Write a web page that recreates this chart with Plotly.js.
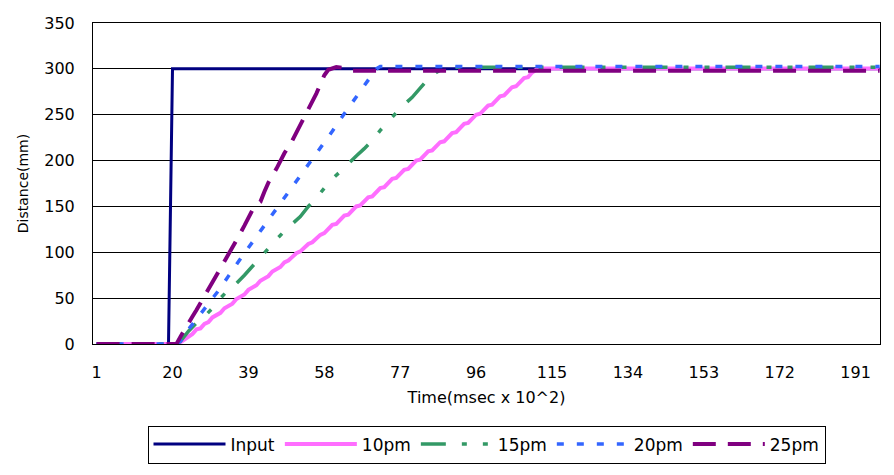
<!DOCTYPE html>
<html>
<head>
<meta charset="utf-8">
<script src="https://cdn.plot.ly/plotly-3.0.1.min.js"></script>
<style>html,body{margin:0;padding:0;background:#fff;}#chart{width:894px;height:475px;}</style>
</head>
<body>
<div id="chart"></div>
<script>
// Category ticks shown on the time axis
const tickCats = [1, 20, 39, 58, 77, 96, 115, 134, 153, 172, 191];
const nCats = 197;

// Series names
const seriesNames = ["Input", "10pm", "15pm", "20pm", "25pm"];

// Input
const inputX = [1, 19, 20, 197];
const inputY = [0, 0, 300, 300];

// 10pm
const pinkX = [1, 21, 22, 23, 24, 25, 26, 27, 28, 29, 30, 31, 32, 33, 34, 35, 36, 37, 38, 39, 40,
  41, 42, 43, 44, 45, 46, 47, 48, 49, 50, 51, 52, 53, 54, 55, 56, 57, 58, 59, 60,
  61, 62, 63, 64, 65, 66, 67, 68, 69, 70, 71, 72, 73, 74, 75, 76, 77, 78, 79, 80,
  81, 82, 83, 84, 85, 86, 87, 88, 89, 90, 91, 92, 93, 94, 95, 96, 97, 98, 99, 100,
  101, 102, 103, 104, 105, 106, 107, 108, 109, 110, 111, 112, 197];
const pinkY = [0, 0, 2, 5, 9, 11, 16, 17, 22, 24, 29, 31, 34, 39, 41, 44, 49, 51, 54, 59, 61,
  64, 69, 71, 74, 79, 81, 84, 89, 91, 95, 99, 101, 105, 109, 111, 115, 119, 121, 125, 130,
  131, 135, 140, 141, 146, 150, 151, 156, 160, 161, 166, 170, 171, 176, 180, 181, 186, 190, 191, 196,
  200, 201, 206, 210, 211, 216, 220, 221, 226, 230, 231, 236, 240, 241, 246, 250, 251, 256, 260, 261,
  266, 270, 271, 276, 280, 281, 286, 290, 291, 296, 299, 300.5, 300.5];

// 15pm
const greenX = [1, 21, 22, 24, 26, 28, 30, 32, 34, 36, 38, 40, 42, 44, 46, 48, 50, 52, 54, 56, 58,
  60, 62, 64, 66, 68, 70, 72, 74, 76, 78, 80, 82, 84, 86, 88, 90, 197];
const greenY = [0, 0, 3, 14, 23, 30, 39, 50, 59, 66, 75, 85, 95, 104, 114, 123, 131, 139, 150, 159, 170,
  180, 188, 197, 205, 213, 222, 233, 243, 252, 261, 269, 279, 289, 296, 301, 301.7, 301.7];

// 20pm
const blueX = [1, 21, 22, 23, 24, 26, 28, 30, 32, 34, 36, 38, 40, 42, 44, 46, 48, 50, 52, 54, 56,
  58, 60, 62, 64, 66, 68, 70, 71, 72, 197];
const blueY = [0, 0, 3, 10, 16, 27, 38, 49, 61, 74, 87, 99, 111, 123, 135, 147, 160, 172, 184, 196, 208,
  220, 232, 245, 257, 269, 281, 294, 300, 302.5, 302.5];

// 25pm
const purpleX = [1, 21, 22, 23, 24, 25, 26, 28, 30, 32, 34, 36, 38, 40, 41, 42, 43, 44, 46, 48, 50,
  52, 54, 56, 58, 59, 61, 63, 65, 197];
const purpleY = [0, 0, 8, 16, 22, 30, 37, 52, 66, 81, 97, 113, 129, 146, 152, 155, 166, 176, 191, 208, 222,
  239, 256, 273, 293, 299, 302, 301, 298, 298];

const FONT = "DejaVu Sans";

const traces = [
  {x: inputX, y: inputY, name: seriesNames[0], mode: "lines",
   line: {color: "#000080", width: 3}},
  {x: pinkX, y: pinkY, name: seriesNames[1], mode: "lines",
   line: {color: "#FF6EFF", width: 4}},
  {x: greenX, y: greenY, name: seriesNames[2], mode: "lines",
   line: {color: "#339966", width: 3.5, dash: "25px,16px,5px,16px,5px,16px"}},
  {x: blueX, y: blueY, name: seriesNames[3], mode: "lines",
   line: {color: "#3366FF", width: 3.5, dash: "7px,13px"}},
  {x: purpleX, y: purpleY, name: seriesNames[4], mode: "lines",
   line: {color: "#800080", width: 4, dash: "23px,12px"}}
];

const layout = {
  width: 894, height: 475,
  paper_bgcolor: "#fff", plot_bgcolor: "#fff",
  margin: {l: 93, r: 14, t: 23, b: 129},
  font: {family: FONT, size: 16, color: "#000"},
  showlegend: true,
  legend: {
    orientation: "h", x: 0.5, xanchor: "center", y: -0.254, yanchor: "top",
    bordercolor: "#000", borderwidth: 1, bgcolor: "#fff",
    font: {family: FONT, size: 17, color: "#000"},
    itemwidth: 72, tracegroupgap: 0
  },
  xaxis: {
    range: [0.1, nCats + 0.1],
    tickmode: "array", tickvals: tickCats, ticktext: tickCats.map(String),
    showgrid: false, zeroline: false,
    showline: true, linecolor: "#000", linewidth: 1, mirror: true,
    ticks: "", ticklabelstandoff: 14,
    tickfont: {family: FONT, size: 16, color: "#000"},
    title: {text: "Time(msec x 10^2)", font: {family: FONT, size: 16, color: "#000"}, standoff: 10}
  },
  yaxis: {
    range: [0, 350], dtick: 50, tick0: 0,
    showgrid: true, gridcolor: "#000", gridwidth: 1,
    zeroline: false,
    showline: true, linecolor: "#000", linewidth: 1, mirror: true,
    ticks: "", ticklabelstandoff: 14,
    tickfont: {family: FONT, size: 16, color: "#000"},
    title: {text: "Distance(mm)", font: {family: FONT, size: 14, color: "#000"}, standoff: 12}
  }
};

Plotly.newPlot("chart", traces, layout, {staticPlot: true, displayModeBar: false});
</script>
</body>
</html>
